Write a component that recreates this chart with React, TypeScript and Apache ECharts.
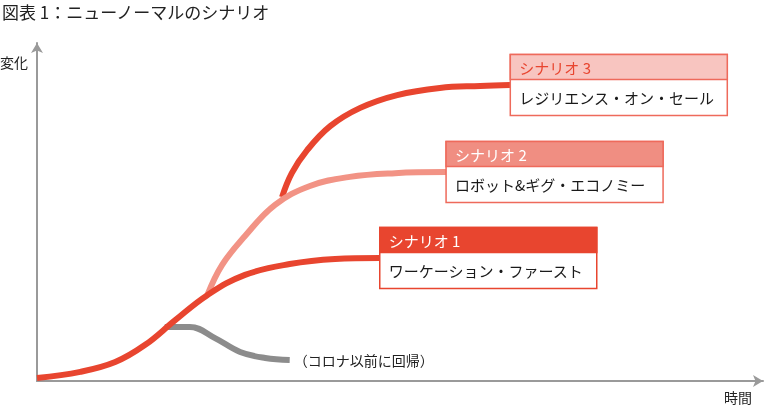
import React, { useEffect, useRef } from 'react';
import * as echarts from 'echarts';

const FONT = '"Noto Sans CJK JP", "Noto Sans", sans-serif';

const titleText = '図表 1：ニューノーマルのシナリオ';
const yAxisName = '変化';
const xAxisName = '時間';
const returnLabel = '（コロナ以前に回帰）';

const scenarioTitles = ['シナリオ 1', 'シナリオ 2', 'シナリオ 3'];
const scenarioNames = ['ワーケーション・ファースト', 'ロボット&ギグ・エコノミー', 'レジリエンス・オン・セール'];

// [time, change]
const scenario1: [number, number][] = [
  [0, 0.9], [6.2, 2.7], [11.2, 5.6], [15.5, 10.7], [19.8, 18.0], [24.4, 25.4],
  [29.8, 31.4], [36.2, 34.6], [42.7, 36.1], [49.1, 36.4],
];
const scenario2: [number, number][] = [
  [24.4, 25.4], [26.5, 34.3], [29.8, 42.9], [34.1, 52.1], [39.1, 57.7], [44.8, 60.4],
  [51.3, 61.5], [58.6, 61.8],
];
const scenario3: [number, number][] = [
  [35.1, 54.4], [36.5, 61.5], [38.7, 68.3], [42, 75.4], [46.3, 80.8], [51.6, 84.6],
  [57.7, 86.7], [63.5, 87.3], [67.8, 87.6],
];
const preCorona: [number, number][] = [
  [18.3, 16], [21.9, 16], [25.5, 12.7], [29.1, 8.6], [32.7, 6.8], [36.2, 6.2],
];

const RED = '#E8452F';
const SALMON = '#F29385';
const GRAY = '#8C8C8C';
const AXIS = '#9A9A9A';

export default function App() {
  const ref = useRef<HTMLDivElement>(null);
  useEffect(() => {
    document.body.style.margin = '0';
    const chart = echarts.init(ref.current!, null, { renderer: 'svg' });
    const axisCommon = {
      type: 'value',
      axisLine: {
        show: true,
        onZero: false,
        symbol: ['none', 'arrow'],
        symbolSize: [9, 10],
        lineStyle: { color: AXIS, width: 2 },
      },
      axisTick: { show: false },
      axisLabel: { show: false },
      splitLine: { show: false },
    };
    const lineSeries = (data: [number, number][], color: string) => ({
      type: 'line',
      data,
      smooth: 0.4,
      showSymbol: false,
      silent: true,
      lineStyle: { color, width: 6 },
    });
    chart.setOption({
      animation: false,
      title: {
        text: titleText,
        left: 2,
        top: 3,
        padding: 0,
        textStyle: { fontSize: 17, fontWeight: 'normal', color: '#222', fontFamily: FONT },
      },
      grid: { left: 37, right: 6, top: 43, bottom: 27 },
      xAxis: { ...axisCommon, min: 0, max: 104 },
      yAxis: { ...axisCommon, min: 0, max: 100 },
      series: [
        lineSeries(preCorona, GRAY),
        lineSeries(scenario3, RED),
        lineSeries(scenario2, SALMON),
        lineSeries(scenario1, RED),
      ],
    });

    const toPx = (p: [number, number]) => chart.convertToPixel({ gridIndex: 0 }, p) as number[];
    const boxStyles = [
      { header: RED, headerText: '#fff', border: RED },
      { header: '#F08E82', headerText: '#fff', border: '#EE6A5B' },
      { header: '#F8C5C0', headerText: RED, border: '#EE6A5B' },
    ];
    const ends = [scenario1, scenario2, scenario3].map((s) => toPx(s[s.length - 1]));
    const W = 217;
    const HH = 25;
    const BH = 36;
    const graphics: any[] = [];
    ends.forEach((p, i) => {
      const left = p[0];
      const top = p[1] - 30.5;
      const st = boxStyles[i];
      graphics.push(
        {
          type: 'rect',
          shape: { x: left, y: top, width: W, height: HH + BH },
          style: { fill: '#fff', stroke: st.border, lineWidth: 1.5 },
          z: 10,
        },
        {
          type: 'rect',
          shape: { x: left, y: top, width: W, height: HH },
          style: { fill: st.header, stroke: st.border, lineWidth: 1.5 },
          z: 11,
        },
        {
          type: 'text',
          x: left + 9,
          y: top + HH / 2 + 0.5,
          style: {
            text: scenarioTitles[i],
            fill: st.headerText,
            fontSize: 15,
            fontFamily: FONT,
            verticalAlign: 'middle',
          },
          z: 12,
        },
        {
          type: 'text',
          x: left + 9,
          y: top + HH + BH / 2,
          style: {
            text: scenarioNames[i],
            fill: '#1a1a1a',
            fontSize: 15,
            fontFamily: FONT,
            verticalAlign: 'middle',
          },
          z: 12,
        }
      );
    });
    const grayEnd = toPx(preCorona[preCorona.length - 1]);
    graphics.push(
      {
        type: 'text',
        x: grayEnd[0] + 4,
        y: grayEnd[1],
        style: { text: returnLabel, fill: '#222', fontSize: 14, fontFamily: FONT, verticalAlign: 'middle' },
      },
      {
        type: 'text',
        x: 0,
        y: 62,
        style: { text: yAxisName, fill: '#222', fontSize: 14, fontFamily: FONT, verticalAlign: 'middle' },
      },
      {
        type: 'text',
        x: 724,
        y: 397,
        style: { text: xAxisName, fill: '#222', fontSize: 14, fontFamily: FONT, verticalAlign: 'middle' },
      }
    );
    chart.setOption({ graphic: graphics });
    return () => chart.dispose();
  }, []);
  return <div ref={ref} style={{ position: 'fixed', left: 0, top: 0, width: 769, height: 408 }} />;
}
